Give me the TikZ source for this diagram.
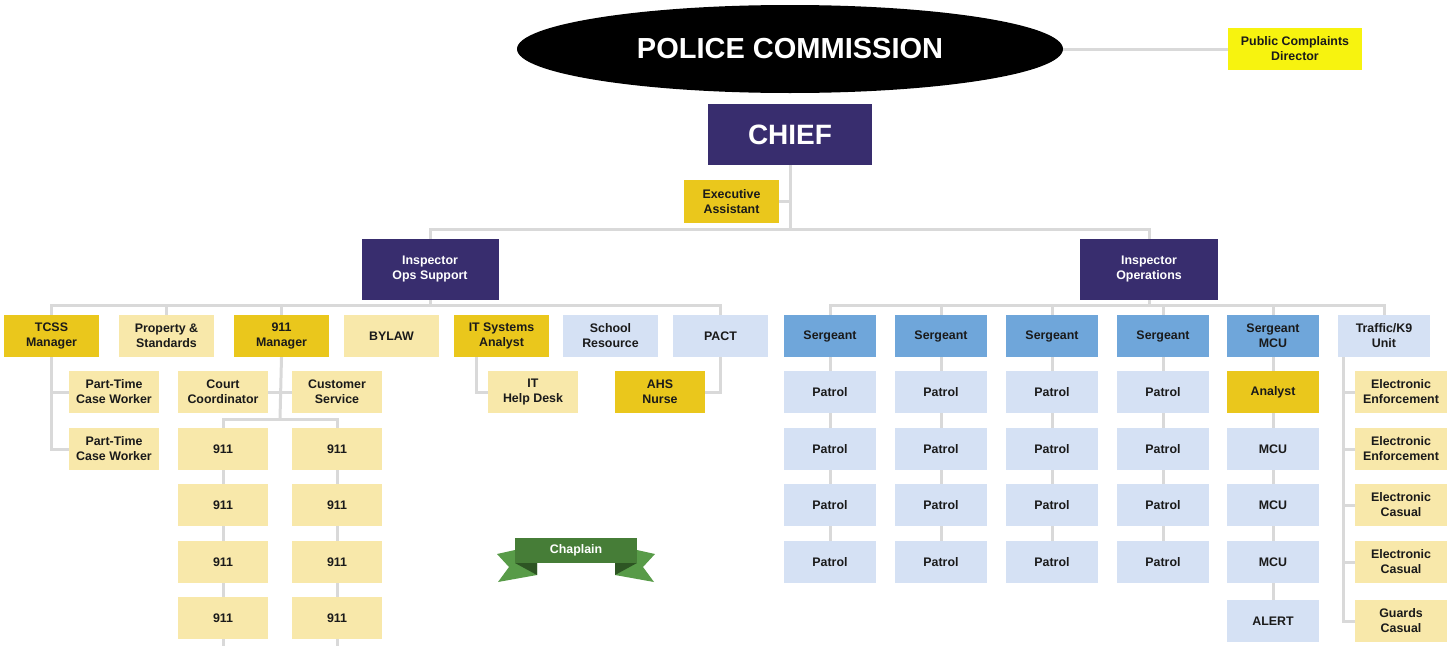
\documentclass[tikz,border=0pt]{standalone}
\usepackage{fontspec}
\setmainfont{Liberation Sans}
\usetikzlibrary{shapes.geometric}
\definecolor{navy}{HTML}{382D6E}
\definecolor{mustard}{HTML}{EAC71C}
\definecolor{cream}{HTML}{F8E8AA}
\definecolor{paleblue}{HTML}{D5E1F4}
\definecolor{sgtblue}{HTML}{6FA6DA}
\definecolor{brightyellow}{HTML}{F7F30F}
\definecolor{linegray}{HTML}{D9D9D9}
\definecolor{inkdark}{HTML}{1A1A1A}
\definecolor{bandgreen}{HTML}{467D37}
\definecolor{tailgreen}{HTML}{589B48}
\definecolor{foldgreen}{HTML}{2D5523}
\tikzset{
	unit/.style={rectangle, minimum height=42pt, inner sep=0pt, align=center, text=inkdark, font=\bfseries\fontsize{12.4}{15}\selectfont},
	wide/.style={unit, minimum width=95pt},
	narrow/.style={unit, minimum width=90pt},
	ops/.style={unit, minimum width=92pt},
	head/.style={unit, fill=navy, text=white, minimum height=61pt},
	mgr/.style={fill=mustard},
	civ/.style={fill=cream},
	pol/.style={fill=paleblue},
	sgt/.style={fill=sgtblue},
	link/.style={draw=linegray, line width=3pt}
}
\begin{document}
\begin{tikzpicture}[x=1pt,y=-1pt]
	\useasboundingbox (0,0) rectangle (1453,645);
	% top of the chart
	\node[ellipse, fill=black, minimum width=546pt, minimum height=88pt, inner sep=0pt, text=white, font=\bfseries\fontsize{29}{34}\selectfont] (PC) at (790,49) {POLICE COMMISSION};
	\node[unit, fill=brightyellow, minimum width=134pt] (PCD) at (1295,49) {Public Complaints\\Director};
	\node[head, minimum width=164pt, font=\bfseries\fontsize{28}{32}\selectfont] (CH) at (790,134.5) {CHIEF};
	\node[wide, mgr, minimum height=43pt] (EA) at (731.5,201.5) {Executive\\Assistant};
	\node[head, minimum width=137pt] (IOS) at (430,269.5) {Inspector\\Ops Support};
	\node[head, minimum width=138pt] (IO) at (1149,269.5) {Inspector\\Operations};
	\node[shape=coordinate] at (790,229) (J1) {};
	\node[shape=coordinate] at (430,305) (J2) {};
	\node[shape=coordinate] at (1149,305) (J3) {};
	% ops support
	\node[wide, mgr] (TC) at (51.5,336) {TCSS\\Manager};
	\node[wide, civ] (PS) at (166.5,336) {Property \&\\Standards};
	\node[wide, mgr] (M9) at (281.5,336) {911\\Manager};
	\node[wide, civ] (BY) at (391.5,336) {BYLAW};
	\node[wide, mgr] (IT) at (501.5,336) {IT Systems\\Analyst};
	\node[wide, pol] (SR) at (610.5,336) {School\\Resource};
	\node[wide, pol] (PA) at (720.5,336) {PACT};
	\node[narrow, civ] (PT1) at (114,392) {Part-Time\\Case Worker};
	\node[narrow, civ] (PT2) at (114,449) {Part-Time\\Case Worker};
	\node[narrow, civ] (CC) at (223,392) {Court\\Coordinator};
	\node[narrow, civ] (CS) at (337,392) {Customer\\Service};
	\node[narrow, civ] (HD) at (533,392) {IT\\Help Desk};
	\node[narrow, mgr] (AHS) at (660,392) {AHS\\Nurse};
	\node[narrow, civ] (N11) at (223,449) {911};
	\node[narrow, civ] (N12) at (223,505) {911};
	\node[narrow, civ] (N13) at (223,562) {911};
	\node[narrow, civ] (N14) at (223,618) {911};
	\node[narrow, civ] (N21) at (337,449) {911};
	\node[narrow, civ] (N22) at (337,505) {911};
	\node[narrow, civ] (N23) at (337,562) {911};
	\node[narrow, civ] (N24) at (337,618) {911};
	\node[shape=coordinate] at (280,419) (J4) {};
	\node[shape=coordinate] at ([xshift=-25.5pt]IT.south) (J5) {};
	% operations
	\node[ops, sgt] (S1) at (830,336) {Sergeant};
	\node[ops, sgt] (S2) at (941,336) {Sergeant};
	\node[ops, sgt] (S3) at (1052,336) {Sergeant};
	\node[ops, sgt] (S4) at (1163,336) {Sergeant};
	\node[ops, sgt] (SM) at (1273,336) {Sergeant\\MCU};
	\node[ops, pol] (TK) at (1384,336) {Traffic/K9\\Unit};
	\node[ops, pol] (P11) at (830,392) {Patrol};
	\node[ops, pol] (P12) at (830,449) {Patrol};
	\node[ops, pol] (P13) at (830,505) {Patrol};
	\node[ops, pol] (P14) at (830,562) {Patrol};
	\node[ops, pol] (P21) at (941,392) {Patrol};
	\node[ops, pol] (P22) at (941,449) {Patrol};
	\node[ops, pol] (P23) at (941,505) {Patrol};
	\node[ops, pol] (P24) at (941,562) {Patrol};
	\node[ops, pol] (P31) at (1052,392) {Patrol};
	\node[ops, pol] (P32) at (1052,449) {Patrol};
	\node[ops, pol] (P33) at (1052,505) {Patrol};
	\node[ops, pol] (P34) at (1052,562) {Patrol};
	\node[ops, pol] (P41) at (1163,392) {Patrol};
	\node[ops, pol] (P42) at (1163,449) {Patrol};
	\node[ops, pol] (P43) at (1163,505) {Patrol};
	\node[ops, pol] (P44) at (1163,562) {Patrol};
	\node[ops, mgr] (MA) at (1273,392) {Analyst};
	\node[ops, pol] (M1) at (1273,449) {MCU};
	\node[ops, pol] (M2) at (1273,505) {MCU};
	\node[ops, pol] (M3) at (1273,562) {MCU};
	\node[ops, pol] (MAL) at (1273,621) {ALERT};
	\node[ops, civ] (K1) at (1401,392) {Electronic\\Enforcement};
	\node[ops, civ] (K2) at (1401,449) {Electronic\\Enforcement};
	\node[ops, civ] (K3) at (1401,505) {Electronic\\Casual};
	\node[ops, civ] (K4) at (1401,562) {Electronic\\Casual};
	\node[ops, civ] (K5) at (1401,621) {Guards\\Casual};
	\node[shape=coordinate] at ([xshift=-41pt]TK.south) (J6) {};
	% connectors
	\draw[link] (PC.east) -- (PCD.west);
	\draw[link] (CH.south) -- (J1);
	\draw[link] (EA.east) -- (EA.east -| J1);
	\draw[link] (IOS.north) |- (J1) -| (IO.north);
	\draw[link] (IOS.south) -- (J2);
	\draw[link] (TC.north) |- (J2) -| (PA.north);
	\draw[link] (PS.north) -- (PS.north |- J2);
	\draw[link] (M9.north) -- (M9.north |- J2);
	\draw[link] (TC.south) |- (PT2.west);
	\draw[link] (PT1.west) -- (PT1.west -| TC.south);
	\draw[link] (M9.south) -- (J4);
	\draw[link] (CC.east) -- (CS.west);
	\draw[link] (N11.north) |- (J4) -| (N21.north);
	\draw[link] (N11) -- (N12) -- (N13) -- (N14);
	\draw[link] (N21) -- (N22) -- (N23) -- (N24);
	\draw[link] (N14.south) -- ++(0,10);
	\draw[link] (N24.south) -- ++(0,10);
	\draw[link] (J5) |- (HD.west);
	\draw[link] (PA.south) |- (AHS.east);
	\draw[link] (IO.south) -- (J3);
	\draw[link] (S1.north) |- (J3) -| (TK.north);
	\draw[link] (S2.north) -- (S2.north |- J3);
	\draw[link] (S3.north) -- (S3.north |- J3);
	\draw[link] (S4.north) -- (S4.north |- J3);
	\draw[link] (SM.north) -- (SM.north |- J3);
	\draw[link] (S1) -- (P11) -- (P12) -- (P13) -- (P14);
	\draw[link] (S2) -- (P21) -- (P22) -- (P23) -- (P24);
	\draw[link] (S3) -- (P31) -- (P32) -- (P33) -- (P34);
	\draw[link] (S4) -- (P41) -- (P42) -- (P43) -- (P44);
	\draw[link] (SM) -- (MA) -- (M1) -- (M2) -- (M3) -- (MAL);
	\draw[link] (J6) |- (K5.west);
	\draw[link] (K1.west) -- (K1.west -| J6);
	\draw[link] (K2.west) -- (K2.west -| J6);
	\draw[link] (K3.west) -- (K3.west -| J6);
	\draw[link] (K4.west) -- (K4.west -| J6);
	% chaplain ribbon
	\fill[tailgreen] (515,550) -- (497,554) -- (509,567) -- (498,582) -- (537,575) -- (537,563) -- cycle;
	\fill[tailgreen] (637,550) -- (655,554) -- (643,567) -- (654,582) -- (615,575) -- (615,563) -- cycle;
	\fill[foldgreen] (515,563) -- (537,563) -- (537,575) -- cycle;
	\fill[foldgreen] (637,563) -- (615,563) -- (615,575) -- cycle;
	\node[rectangle, fill=bandgreen, minimum width=122pt, minimum height=25pt, inner sep=0pt, text=white, font=\bfseries\fontsize{12.4}{15}\selectfont] (CHP) at (576,550.5) {Chaplain};
\end{tikzpicture}
\end{document}
